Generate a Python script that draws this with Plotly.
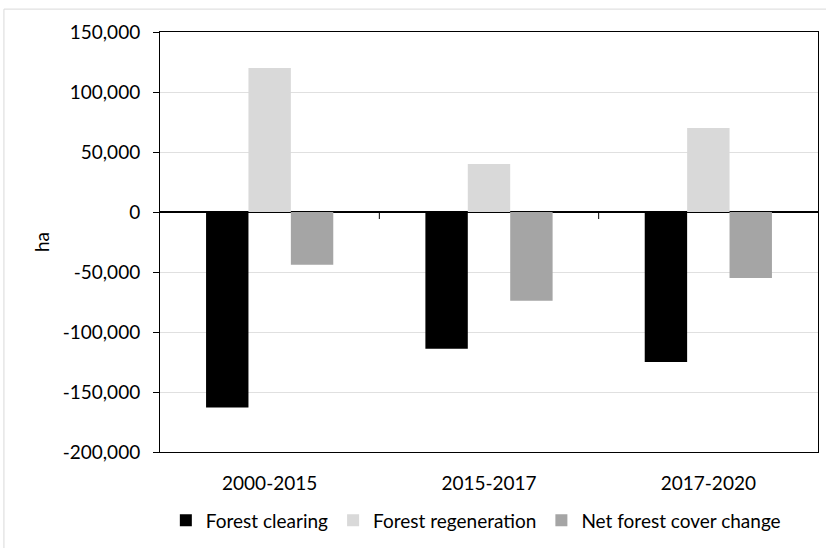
import plotly.graph_objects as go

# Forest cover change by period (hectares)
periods = ["2000-2015", "2015-2017", "2017-2020"]
forest_clearing = [-163000, -114000, -125000]
forest_regeneration = [120000, 40000, 70000]
net_change = [-44000, -74000, -55000]

series_names = ["Forest clearing", "Forest regeneration", "Net forest cover change"]
series_colors = ["#000000", "#d9d9d9", "#a5a5a5"]

y_ticks = [150000, 100000, 50000, 0, -50000, -100000, -150000, -200000]
y_ticktext = [f"{v:,}" for v in y_ticks]

FONT = "Lato"

fig = go.Figure()
for name, vals, col in zip(series_names,
                           [forest_clearing, forest_regeneration, net_change],
                           series_colors):
    fig.add_trace(go.Bar(x=periods, y=vals, name=name,
                         marker=dict(color=col, line=dict(width=0))))

# small ticks on the zero line between categories
shapes = []
for b in [0.5, 1.5]:
    shapes.append(dict(type="line", xref="x", yref="y", x0=b, x1=b,
                       ysizemode="pixel", yanchor=0, y0=0, y1=-7,
                       line=dict(color="black", width=1)))
# light outer frame around the chart area
shapes.append(dict(type="rect", xref="paper", yref="paper",
                   x0=-0.2372, x1=1.02, y0=-0.24, y1=1.0545,
                   line=dict(color="#d9d9d9", width=1), layer="below"))

fig.update_layout(
    width=826, height=548,
    margin=dict(l=160, r=8, t=32, b=93),
    paper_bgcolor="white", plot_bgcolor="white",
    barmode="group", bargap=0.42, bargroupgap=0,
    font=dict(family=FONT, size=19, color="#000000"),
    shapes=shapes,
    legend=dict(orientation="h", x=0.48, xanchor="center",
                y=-0.163, yanchor="middle",
                font=dict(size=19), itemwidth=30, tracegroupgap=0),
    xaxis=dict(showline=True, linecolor="black", linewidth=1, mirror=True,
               showgrid=False, ticks="", ticklabelstandoff=14,
               tickfont=dict(size=19)),
    yaxis=dict(range=[-200000, 150000], tickvals=y_ticks, ticktext=y_ticktext,
               showline=True, linecolor="black", linewidth=1, mirror=True,
               ticks="outside", ticklen=6, tickcolor="black",
               showgrid=True, gridcolor="#e0e0e0", gridwidth=1,
               zeroline=True, zerolinecolor="black", zerolinewidth=1.5,
               ticklabelstandoff=9, tickfont=dict(size=19),
               title=dict(text="ha", font=dict(size=19), standoff=8)),
)

fig.write_html("out.html")
